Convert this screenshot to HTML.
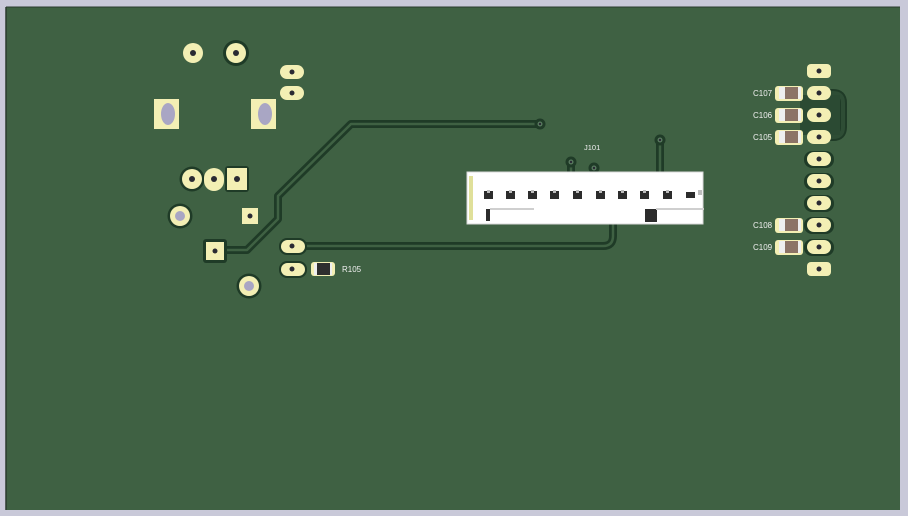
<!DOCTYPE html>
<html><head><meta charset="utf-8"><style>
html,body{margin:0;padding:0;background:#c9c9d9;}
svg{display:block;}
text{font-family:"Liberation Sans",sans-serif;font-size:8px;fill:#f0f0f0;}
</style></head><body>
<svg width="908" height="516" viewBox="0 0 908 516" xmlns="http://www.w3.org/2000/svg">
<rect x="0" y="0" width="908" height="516" fill="#c9c9d9"/>
<rect x="6" y="7" width="894" height="503" fill="#3f6143"/>
<line x1="6" y1="7" x2="6" y2="510" stroke="#2a3a2e" stroke-width="1.5"/>
<line x1="6" y1="7" x2="900" y2="7" stroke="#2a3a2e" stroke-width="1"/>
<g fill="none" stroke-linejoin="round" stroke-linecap="round">
<path d="M215,250 L247,250 L278,219 L278,196 L351,124 L540,124" stroke="#1f3b27" stroke-width="8"/>
<path d="M215,250 L247,250 L278,219 L278,196 L351,124 L540,124" stroke="#3f6143" stroke-width="2.5"/>
<path d="M292,246 L603,246 Q613,246 613,236 L613,222" stroke="#1f3b27" stroke-width="8"/>
<path d="M292,246 L603,246 Q613,246 613,236 L613,222" stroke="#3f6143" stroke-width="2.5"/>
<path d="M660,140 L660,175" stroke="#1f3b27" stroke-width="8"/>
<path d="M660,140 L660,175" stroke="#3f6143" stroke-width="2.5"/>
<path d="M571,162 L571,172" stroke="#1f3b27" stroke-width="8"/>
<path d="M571,162 L571,172" stroke="#3f6143" stroke-width="2.5"/>
<path d="M594,168 L594,172" stroke="#1f3b27" stroke-width="8"/>
<path d="M819,93 L833,93 Q843,93 843,103 L843,127 Q843,137 833,137 L819,137" stroke="#1f3b27" stroke-width="8"/>
<path d="M819,93 L833,93 Q843,93 843,103 L843,127 Q843,137 833,137 L819,137" stroke="#2e4d35" stroke-width="4"/>
</g>
<rect x="800" y="95" width="40" height="40" fill="#2b4a33"/>
<g fill="#1f3b27">
<circle cx="236" cy="53" r="13"/><circle cx="192" cy="179" r="12.5"/><circle cx="180" cy="216" r="12.5"/>
<circle cx="249" cy="286" r="12.5"/><rect x="225" y="166" width="24" height="26" rx="3"/>
<rect x="203" y="239" width="24" height="24" rx="3"/>
<rect x="279" y="238" width="28" height="17" rx="8"/><rect x="279" y="261" width="28" height="17" rx="8"/>
<circle cx="540" cy="124" r="5.5"/><circle cx="571" cy="162" r="5.5"/><circle cx="594" cy="168" r="5.5"/><circle cx="660" cy="140" r="5.5"/>
<rect x="804" y="151" width="30" height="17" rx="8"/><rect x="804" y="173" width="30" height="17" rx="8"/>
<rect x="804" y="195" width="30" height="17" rx="8"/><rect x="804" y="217" width="30" height="17" rx="8"/>
<rect x="804" y="239" width="30" height="17" rx="8"/>
</g>
<g fill="#5a7a60"><circle cx="540" cy="124" r="2.5"/><circle cx="571" cy="162" r="2.5"/><circle cx="594" cy="168" r="2.5"/><circle cx="660" cy="140" r="2.5"/></g>
<g fill="#f3efb4">
<circle cx="193" cy="53" r="10"/><circle cx="236" cy="53" r="10"/>
<rect x="280" y="65" width="24" height="14" rx="7"/><rect x="280" y="86" width="24" height="14" rx="7"/>
<rect x="154" y="99" width="25" height="30"/><rect x="251" y="99" width="25" height="30"/>
<circle cx="192" cy="179" r="10"/><rect x="204" y="168" width="20" height="23" rx="10"/>
<rect x="227" y="168" width="20" height="22"/>
<circle cx="180" cy="216" r="10"/><rect x="242" y="208" width="16" height="16"/>
<rect x="206" y="242" width="18" height="18"/>
<rect x="281" y="240" width="24" height="13" rx="6.5"/><rect x="281" y="263" width="24" height="13" rx="6.5"/>
<circle cx="249" cy="286" r="10"/>
<rect x="807" y="64" width="24" height="14" rx="4"/>
<rect x="807" y="86" width="24" height="14" rx="7"/><rect x="807" y="108" width="24" height="14" rx="7"/>
<rect x="807" y="130" width="24" height="14" rx="7"/><rect x="807" y="152" width="24" height="14" rx="7"/>
<rect x="807" y="174" width="24" height="14" rx="7"/><rect x="807" y="196" width="24" height="14" rx="7"/>
<rect x="807" y="218" width="24" height="14" rx="7"/><rect x="807" y="240" width="24" height="14" rx="7"/>
<rect x="807" y="262" width="24" height="14" rx="4"/>
</g>
<g fill="#a9a6c4">
<ellipse cx="168" cy="114" rx="7" ry="11"/><ellipse cx="265" cy="114" rx="7" ry="11"/>
<circle cx="180" cy="216" r="5"/><circle cx="249" cy="286" r="5"/>
</g>
<g fill="#2a2a33">
<circle cx="193" cy="53" r="3"/><circle cx="236" cy="53" r="3"/>
<circle cx="292" cy="72" r="2.5"/><circle cx="292" cy="93" r="2.5"/>
<circle cx="192" cy="179" r="3"/><circle cx="214" cy="179" r="3"/><circle cx="237" cy="179" r="3"/>
<circle cx="250" cy="216" r="2.5"/><circle cx="215" cy="251" r="2.5"/>
<circle cx="292" cy="246" r="2.5"/><circle cx="292" cy="269" r="2.5"/>
<circle cx="540" cy="124" r="1.2"/><circle cx="571" cy="162" r="1.2"/><circle cx="594" cy="168" r="1.2"/><circle cx="660" cy="140" r="1.2"/>
<circle cx="819" cy="71" r="2.5"/><circle cx="819" cy="93" r="2.5"/><circle cx="819" cy="115" r="2.5"/>
<circle cx="819" cy="137" r="2.5"/><circle cx="819" cy="159" r="2.5"/><circle cx="819" cy="181" r="2.5"/>
<circle cx="819" cy="203" r="2.5"/><circle cx="819" cy="225" r="2.5"/><circle cx="819" cy="247" r="2.5"/>
<circle cx="819" cy="269" r="2.5"/>
</g>
<rect x="311" y="262" width="24" height="14" rx="3" fill="#f3efb4"/>
<rect x="314" y="263" width="18" height="12" fill="#eeeeee"/>
<rect x="317" y="263" width="13" height="12" fill="#2e2e2e"/>
<text x="342" y="272">R105</text>
<g>
<rect x="775" y="86" width="28" height="15" rx="3" fill="#f3efb4"/><rect x="779" y="87" width="22" height="12" fill="#eee"/><rect x="785" y="87" width="13" height="12" fill="#8c7366"/>
<rect x="775" y="108" width="28" height="15" rx="3" fill="#f3efb4"/><rect x="779" y="109" width="22" height="12" fill="#eee"/><rect x="785" y="109" width="13" height="12" fill="#8c7366"/>
<rect x="775" y="130" width="28" height="15" rx="3" fill="#f3efb4"/><rect x="779" y="131" width="22" height="12" fill="#eee"/><rect x="785" y="131" width="13" height="12" fill="#8c7366"/>
<rect x="775" y="218" width="28" height="15" rx="3" fill="#f3efb4"/><rect x="779" y="219" width="22" height="12" fill="#eee"/><rect x="785" y="219" width="13" height="12" fill="#8c7366"/>
<rect x="775" y="240" width="28" height="15" rx="3" fill="#f3efb4"/><rect x="779" y="241" width="22" height="12" fill="#eee"/><rect x="785" y="241" width="13" height="12" fill="#8c7366"/>
</g>
<text x="753" y="96">C107</text><text x="753" y="118">C106</text><text x="753" y="140">C105</text>
<text x="753" y="228">C108</text><text x="753" y="250">C109</text>
<text x="584" y="150" style="font-size:7.5px">J101</text>
<rect x="467" y="172" width="236" height="52" fill="#ffffff" stroke="#d8d8d8" stroke-width="1"/>
<rect x="469" y="176" width="4" height="44" fill="#e0e09a"/>
<rect x="474" y="174" width="228" height="48" fill="#ffffff"/>
<g fill="#2c2c2c">
<rect x="484" y="191" width="9" height="8"/><rect x="506" y="191" width="9" height="8"/>
<rect x="528" y="191" width="9" height="8"/><rect x="550" y="191" width="9" height="8"/>
<rect x="573" y="191" width="9" height="8"/><rect x="596" y="191" width="9" height="8"/>
<rect x="618" y="191" width="9" height="8"/><rect x="640" y="191" width="9" height="8"/>
<rect x="663" y="191" width="9" height="8"/><rect x="686" y="192" width="9" height="6"/>
<rect x="486" y="209" width="4" height="12"/><rect x="645" y="209" width="12" height="13"/>
</g>
<g fill="#bdbdbd">
<rect x="487" y="190" width="3" height="3"/><rect x="509" y="190" width="3" height="3"/>
<rect x="531" y="190" width="3" height="3"/><rect x="553" y="190" width="3" height="3"/>
<rect x="576" y="190" width="3" height="3"/><rect x="599" y="190" width="3" height="3"/>
<rect x="621" y="190" width="3" height="3"/><rect x="643" y="190" width="3" height="3"/>
<rect x="666" y="190" width="3" height="3"/><rect x="698" y="190" width="4" height="5"/>
</g>
<rect x="490" y="208" width="44" height="2" fill="#cfcfcf"/>
<rect x="656" y="208" width="48" height="2" fill="#cfcfcf"/>
</svg>
</body></html>
